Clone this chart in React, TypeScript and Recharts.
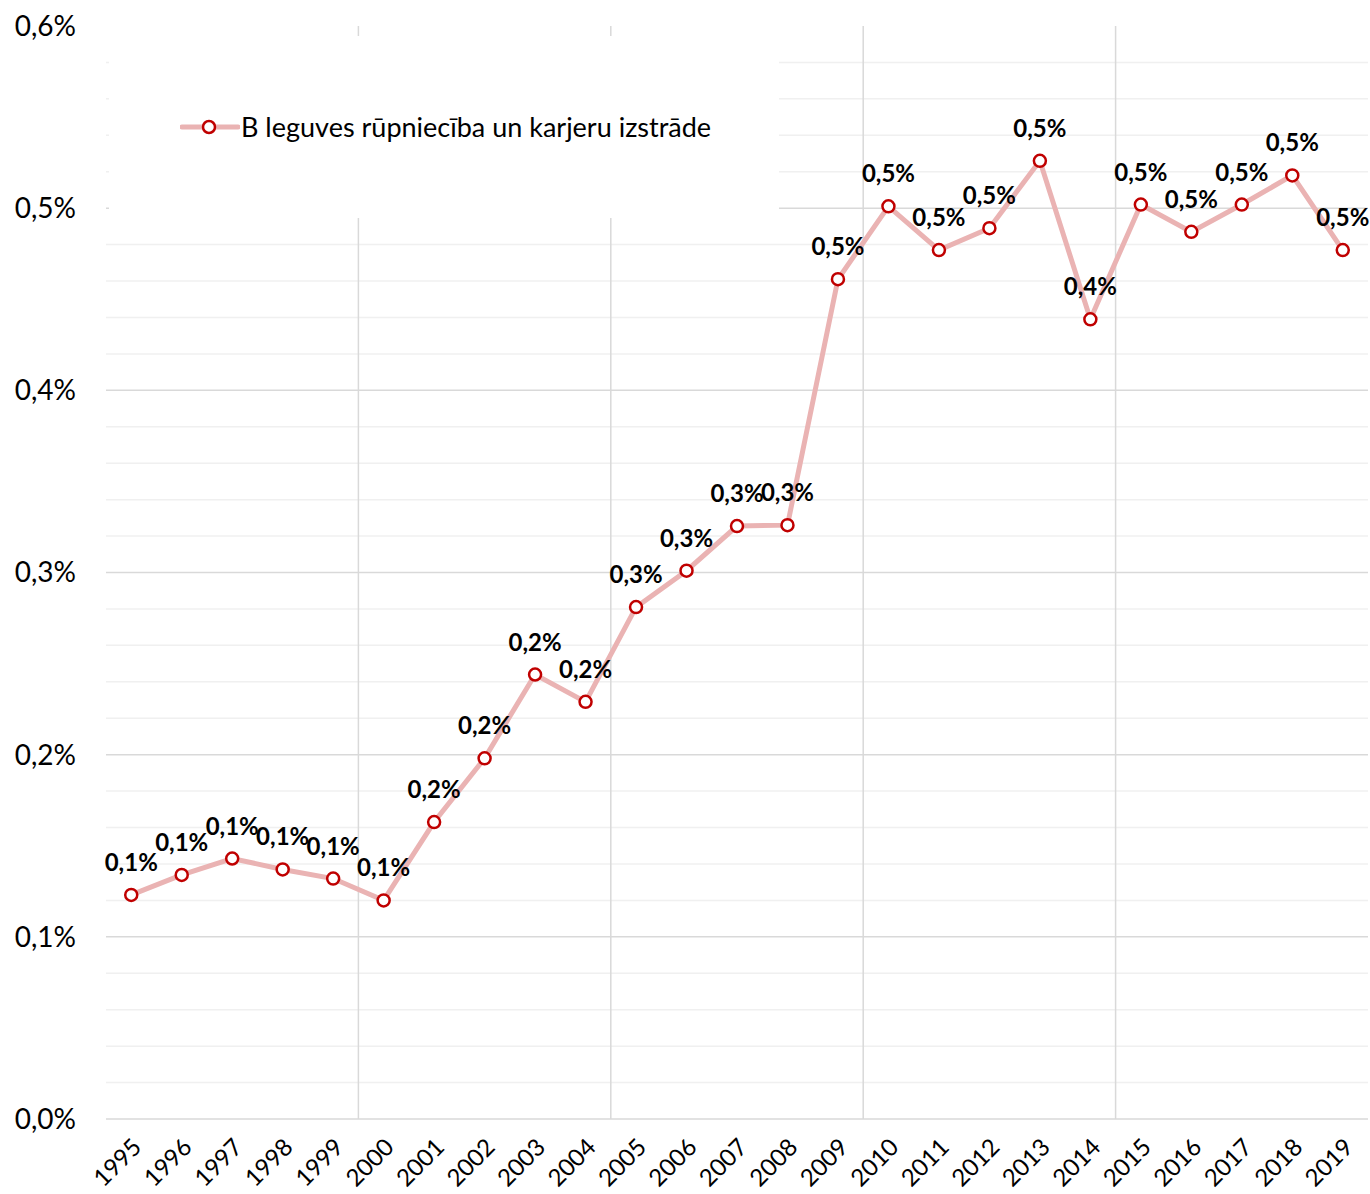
import { LineChart, Line, XAxis, YAxis, ReferenceLine, LabelList } from 'recharts';

const years = [
  '1995', '1996', '1997', '1998', '1999', '2000', '2001', '2002', '2003', '2004', '2005', '2006',
  '2007', '2008', '2009', '2010', '2011', '2012', '2013', '2014', '2015', '2016', '2017', '2018', '2019',
];
const values = [
  0.123, 0.134, 0.143, 0.137, 0.132, 0.120, 0.163, 0.198, 0.244, 0.229, 0.281, 0.301,
  0.3255, 0.326, 0.461, 0.501, 0.477, 0.489, 0.526, 0.439, 0.502, 0.487, 0.502, 0.518, 0.477,
];
const seriesName = 'B leguves rūpniecība un karjeru izstrāde';
const majorTicks = [0, 0.1, 0.2, 0.3, 0.4, 0.5, 0.6];
const minorTicks = [0.02, 0.04, 0.06, 0.08, 0.12, 0.14, 0.16, 0.18, 0.22, 0.24, 0.26, 0.28, 0.32, 0.34, 0.36, 0.38, 0.42, 0.44, 0.46, 0.48, 0.52, 0.54, 0.56, 0.58];

const FONT = 'Lato, "Open Sans", sans-serif';
const LINE = '#eab3b3';
const MARK = '#c00000';

const data = years.map((y, i) => ({ i, year: y, v: values[i] }));
const xTicks = years.map((_, i) => i);
const fiveYearBounds = years
  .map((y, i) => (Number(y) % 5 === 0 && i > 0 ? i - 0.5 : null))
  .filter((b): b is number => b !== null);

const pct = (v: number) => v.toFixed(1).replace('.', ',') + '%';

function YearTick({ x, y, payload }: any) {
  return (
    <g transform={`translate(${x - 1},${y + 9})`}>
      <text x={0} y={0} dy={18} textAnchor="end" transform="rotate(-45)" fill="#000" fontSize={24} fontFamily={FONT}>
        {years[payload.value]}
      </text>
    </g>
  );
}

// white legend box sitting over the gridlines, like the original
function LegendBox() {
  return (
    <div
      style={{
        position: 'absolute', left: 109, top: 36, width: 670, height: 182,
        background: '#fff', display: 'flex', alignItems: 'center',
      }}
    >
      <svg width={60} height={20} style={{ marginLeft: 71 }}>
        <line x1={2} y1={10} x2={58} y2={10} stroke={LINE} strokeWidth={5} strokeLinecap="round" />
        <circle cx={29} cy={10} r={6} fill="#fff" stroke={MARK} strokeWidth={2.5} />
      </svg>
      <span style={{ fontFamily: FONT, fontSize: 27, color: '#000', marginLeft: 1, marginTop: -2 }}>{seriesName}</span>
    </div>
  );
}

export default function App() {
  return (
    <div style={{ position: 'absolute', left: 0, top: 0, width: 1370, height: 1194, background: '#fff' }}>
      <LineChart width={1370} height={1194} data={data} margin={{ top: 26, right: 2, left: 6, bottom: 0 }}>
        {minorTicks.map(t => (
          <ReferenceLine key={'m' + t} y={t} stroke="#f0f0f0" strokeWidth={1.5} />
        ))}
        {majorTicks.filter(t => t < 0.6).map(t => (
          <ReferenceLine key={'M' + t} y={t} stroke="#d9d9d9" strokeWidth={1.5} />
        ))}
        {fiveYearBounds.map(b => (
          <ReferenceLine key={'v' + b} x={b} stroke="#d9d9d9" strokeWidth={1.5} />
        ))}
        <XAxis
          dataKey="i"
          type="number"
          domain={[-0.5, years.length - 0.5]}
          ticks={xTicks}
          interval={0}
          tick={<YearTick />}
          axisLine={false}
          tickLine={false}
          height={75}
        />
        <YAxis
          domain={[0, 0.6]}
          ticks={majorTicks}
          tickFormatter={pct}
          axisLine={false}
          tickLine={false}
          width={100}
          tick={{ fill: '#000', fontSize: 28, fontFamily: FONT }}
          tickMargin={24}
        />
        <Line
          type="linear"
          dataKey="v"
          name={seriesName}
          stroke={LINE}
          strokeWidth={5}
          dot={{ r: 6, fill: '#fff', stroke: MARK, strokeWidth: 2.5 }}
          activeDot={false}
          isAnimationActive={false}
        >
          <LabelList
            dataKey="v"
            position="top"
            offset={24}
            formatter={(v: any) => pct(Number(v))}
            fill="#000"
            fontSize={24}
            fontWeight="bold"
            fontFamily={FONT}
          />
        </Line>
      </LineChart>
      <LegendBox />
    </div>
  );
}
